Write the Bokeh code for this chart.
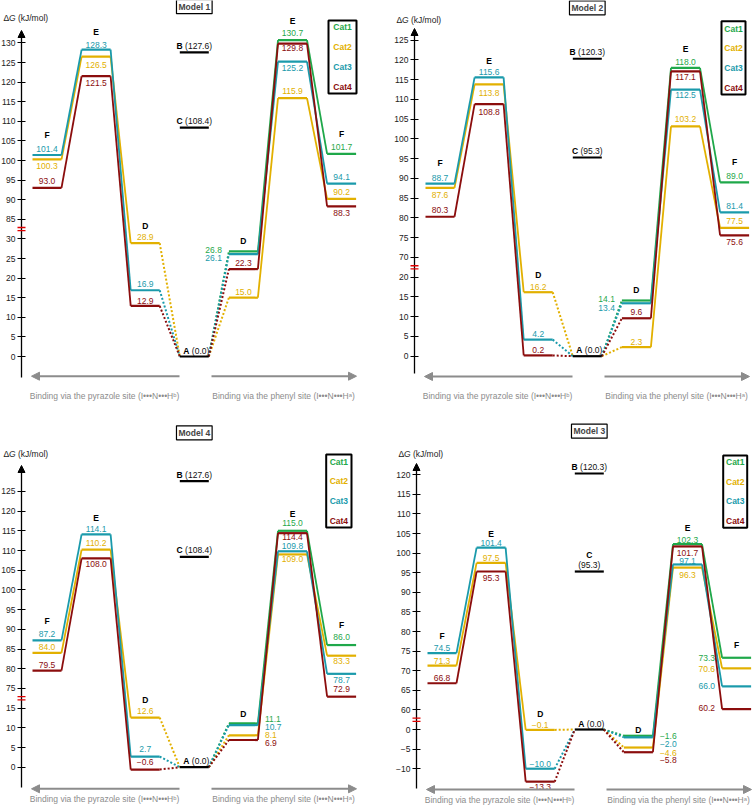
from bokeh.plotting import figure
from bokeh.models import (LinearAxis, FixedTicker, Label, Arrow, NormalHead,
                          BoxAnnotation, Range1d)
from bokeh.layouts import column, row
from bokeh.embed import file_html
from bokeh.resources import INLINE
from bokeh.core.properties import value

# ---------------- data ----------------
CATS = ["Cat1", "Cat2", "Cat3", "Cat4"]
STAGES = ["F", "E", "D", "A", "D", "E", "F"]   # pyrazole side ... A ... phenyl side

m1_cat1 = [None, None, None, 0.0, 26.8, 130.7, 101.7]
m1_cat2 = [100.3, 126.5, 28.9, 0.0, 15.0, 115.9, 90.2]
m1_cat3 = [101.4, 128.3, 16.9, 0.0, 26.1, 125.2, 94.1]
m1_cat4 = [93.0, 121.5, 12.9, 0.0, 22.3, 129.8, 88.3]
m1_B, m1_C = 127.6, 108.4
m1_ticks_low = [0, 5, 10, 15, 20, 25, 30]
m1_ticks_high = [85, 90, 95, 100, 105, 110, 115, 120, 125, 130]

m2_cat1 = [None, None, None, 0.0, 14.1, 118.0, 89.0]
m2_cat2 = [87.6, 113.8, 16.2, 0.0, 2.3, 103.2, 77.5]
m2_cat3 = [88.7, 115.6, 4.2, 0.0, 13.4, 112.5, 81.4]
m2_cat4 = [80.3, 108.8, 0.2, 0.0, 9.6, 117.1, 75.6]
m2_B, m2_C = 120.3, 95.3
m2_ticks_low = [0, 5, 10, 15, 20]
m2_ticks_high = [70, 75, 80, 85, 90, 95, 100, 105, 110, 115, 120, 125]

m4_cat1 = [None, None, None, 0.0, 11.1, 115.0, 86.0]
m4_cat2 = [84.0, 110.2, 12.6, 0.0, 8.1, 109.0, 83.3]
m4_cat3 = [87.2, 114.1, 2.7, 0.0, 10.7, 109.8, 78.7]
m4_cat4 = [79.5, 108.0, -0.6, 0.0, 6.9, 114.4, 72.9]
m4_B, m4_C = 127.6, 108.4
m4_ticks_low = [0, 5, 10, 15]
m4_ticks_high = [75, 80, 85, 90, 95, 100, 105, 110, 115, 120, 125]

m3_cat1 = [None, None, None, 0.0, -1.6, 102.3, 73.3]
m3_cat2 = [71.3, 97.5, -0.1, 0.0, -4.6, 96.3, 70.6]
m3_cat3 = [74.5, 101.4, -10.0, 0.0, -2.0, 97.1, 66.0]
m3_cat4 = [66.8, 95.3, -13.3, 0.0, -5.8, 101.7, 60.2]
m3_B, m3_C = 120.3, 95.3
m3_ticks_low = [-10, -5, 0]
m3_ticks_high = [60, 65, 70, 75, 80, 85, 90, 95, 100, 105, 110, 115, 120]

CAPTION_L = "Binding via the pyrazole site (I\u2022\u2022\u2022N\u2022\u2022\u2022H\u1d47)"
CAPTION_R = "Binding via the phenyl site (I\u2022\u2022\u2022N\u2022\u2022\u2022H\u1d43)"

# ---------------- style / layout ----------------
COLORS = ["#1fa84a", "#e2b000", "#1a9aab", "#8b0d0d"]
GRAY = "#8c8c8c"
FONT = "Liberation Sans"
S = 1.0            # reference px -> page px
XU = 49.1          # ref px between stage centres
X0 = 25.5          # ref px from axis to first stage centre
HW = 14.5 / XU     # half width of a level line (data units)
FS = 8.5           # ref font size


def fs(px):
    return f"{px * S:.2f}px"


# label placement: (mode, dy ref px; positive = down); mode c=centre, L=left, R=right
LAB_M1 = [
    [None, None, None, None, ("L", -1.5), ("c", -7.5), ("c", -7)],
    [("c", 6.5), ("c", 8), ("c", -6), None, ("c", -6), ("c", -7), ("c", -6.5)],
    [("c", -6), ("c", -5), ("c", -6), None, ("L", 4), ("c", 6), ("c", -6.5)],
    [("c", -7), ("c", 7), ("c", -5), None, ("c", -6), ("c", 4), ("c", 6.5)],
]
LAB_M2 = [
    [None, None, None, None, ("L", -1.7), ("c", -6), ("c", -6)],
    [("c", 6.7), ("c", 9), ("c", -5.7), None, ("c", -5), ("c", -7), ("c", -6.7)],
    [("c", -6), ("c", -5.7), ("c", -5.6), None, ("L", 4.4), ("c", 5), ("c", -6)],
    [("c", -6.3), ("c", 7.7), ("c", -5.3), None, ("c", -6), ("c", 5.7), ("c", 6.7)],
]
LAB_M4 = [
    [None, None, None, None, ("R", -4.5), ("c", -7.6), ("c", -7.6)],
    [("c", -6), ("c", -7), ("c", -7), None, ("R", 0), ("c", 5), ("c", 5.5)],
    [("c", -6.5), ("c", -5), ("c", -7.5), None, ("R", 2), ("c", -5), ("c", 5.7)],
    [("c", -5.5), ("c", 5.5), ("c", -7.5), None, ("R", 3), ("c", 4.3), ("c", -7.2)],
]
LAB_M3 = [
    [None, None, None, None, ("R", 0.7), ("c", -4.5), ("L", 0)],
    [("c", -5), ("c", -5), ("c", -4.5), None, ("R", 5), ("c", 7.6), ("L", 1)],
    [("c", -5.5), ("c", -5), ("c", -5), None, ("R", 7), ("c", -3.5), ("L", 0)],
    [("c", -5), ("c", 6.7), ("c", 5), None, ("R", 8), ("c", 7), ("L", -1)],
]
LET_M1 = [-20.5, -18, -17, None, -10, -18.7, -20.3]
LET_M2 = [-21, -16.7, -17.7, None, -11, -19, -20]
LET_M4 = [-19.8, -16, -18, None, -9.7, -17.3, -20.3]
LET_M3 = [-17.4, -14, -15.4, None, -6, -16.4, -13]

L_M1 = dict(oy=0, w=393, h=402, bl=21, zero=356.0, ppu=3.92, split=50, shift=50, brk=32.5,
            tip=30, ax_bot=377, title_y=6.2, dg_y=17.5, leg=(307, 335, 20, 93),
            leg_y=[26, 46, 66, 86], arr_y=375.7, cap_y=395.5, c_split=False)
L_M2 = dict(oy=0, w=360, h=402, bl=21, zero=355.7, ppu=3.95, split=45, shift=45, brk=22.5,
            tip=28, ax_bot=373, title_y=7.3, dg_y=19.5, leg=(307, 331, 20.7, 94),
            leg_y=[28, 47.3, 67.7, 87], arr_y=376, cap_y=395.5, c_split=False)
L_M4 = dict(oy=402, w=393, h=403, bl=21, zero=766.7, ppu=3.94, split=45, shift=55, brk=17.5,
            tip=465, ax_bot=786.7, title_y=432.3, dg_y=453, leg=(304.7, 330, 454, 527),
            leg_y=[461, 480.7, 500.3, 520], arr_y=788.3, cap_y=798.3, c_split=False)
L_M3 = dict(oy=402, w=360, h=403, bl=23, zero=729.0, ppu=3.92, split=30, shift=55, brk=2.5,
            tip=463, ax_bot=788, title_y=430.7, dg_y=453, leg=(306.7, 330.7, 455, 527.3),
            leg_y=[461, 481, 500.7, 520], arr_y=789, cap_y=799, c_split=True)


def fmt(v):
    return f"{v:.1f}".replace("-", "\u2212")


def num_w(s):
    return sum({"(": .333, ")": .333, ".": .278, "\u2212": .584}.get(ch, .556) for ch in s) * FS


def make_panel(name, series, B, C, t_low, t_high, L, labs, lets):
    zero, ppu, oy = L["zero"], L["ppu"], L["oy"]

    def Y(abs_y):
        return (zero - abs_y) / ppu

    def X(rel):
        return (rel - X0) / XU

    def D(v):
        return v if v <= L["split"] else v - L["shift"]

    W = round(L["w"] * S)
    H = round(L["h"] * S)
    x_start = X(-L["bl"])
    x_end = X(W / S - L["bl"])
    ytop = Y(oy)
    ybot = Y(oy + H / S)
    xa = X(0)   # axis location

    p = figure(width=W, height=H, x_range=Range1d(x_start, x_end), y_range=Range1d(ybot, ytop),
               output_backend="svg", toolbar_location=None, tools="",
               x_axis_location=None, y_axis_location=None,
               min_border_left=0, min_border_right=0, min_border_top=0, min_border_bottom=0,
               outline_line_color=None)
    p.grid.visible = False

    # ---- y axis (broken) ----
    ticks = t_low + t_high
    disp = [D(t) for t in ticks]
    ovr = {d: (str(t) if t >= 0 else "\u2212" + str(-t)) for d, t in zip(disp, ticks)}
    ax = LinearAxis(ticker=FixedTicker(ticks=disp, minor_ticks=[]),
                    major_label_overrides=ovr, fixed_location=xa,
                    bounds=(Y(L["ax_bot"]), Y(L["tip"] + 6)))
    ax.axis_line_color = "black"
    ax.axis_line_width = 1.3
    ax.major_tick_line_color = "black"
    ax.major_tick_line_width = 1.1
    ax.major_tick_in = 4
    ax.major_tick_out = 4
    ax.minor_tick_line_color = None
    ax.major_label_text_font = FONT
    ax.major_label_text_font_size = fs(FS)
    ax.major_label_text_color = "#222222"
    ax.major_label_standoff = 2
    p.add_layout(ax, "left")

    p.add_layout(Arrow(end=NormalHead(size=7, fill_color="black", line_color="black", line_width=1),
                       x_start=xa, y_start=Y(L["tip"] + 7), x_end=xa, y_end=Y(L["tip"]),
                       line_color="black", line_width=1.3))
    for dyp in (-1.6, 1.6):
        yb = L["brk"] + dyp / ppu
        p.add_layout(Arrow(start=None, end=None, x_start=xa - 4 / XU, x_end=xa + 4 / XU,
                           y_start=yb, y_end=yb, line_color="#e00000", line_width=1.3))

    # ---- levels and connectors ----
    for ci, vals in enumerate(series):
        col = COLORS[ci]
        idx = [i for i, v in enumerate(vals) if v is not None]
        sol = dict(x0=[], y0=[], x1=[], y1=[])
        dot = dict(x0=[], y0=[], x1=[], y1=[])
        for a, b in zip(idx[:-1], idx[1:]):
            tgt = dot if 3 in (a, b) else sol
            tgt["x0"].append(a + HW)
            tgt["y0"].append(D(vals[a]))
            tgt["x1"].append(b - HW)
            tgt["y1"].append(D(vals[b]))
        p.segment(x0=sol["x0"], y0=sol["y0"], x1=sol["x1"], y1=sol["y1"],
                  line_color=col, line_width=1.8)
        p.segment(x0=dot["x0"], y0=dot["y0"], x1=dot["x1"], y1=dot["y1"],
                  line_color=col, line_width=2, line_dash="2 2")
        lv = [i for i in idx if i != 3]
        p.segment(x0=[i - HW for i in lv], y0=[D(vals[i]) for i in lv],
                  x1=[i + HW for i in lv], y1=[D(vals[i]) for i in lv],
                  line_color=col, line_width=2.2)
        # value labels
        groups = {"center": ([], [], []), "right": ([], [], []), "left": ([], [], [])}
        for i in lv:
            spec = labs[ci][i]
            if spec is None:
                continue
            mode, dy = spec
            y = D(vals[i]) - dy / ppu
            if mode == "c":
                x, al = i, "center"
            elif mode == "L":
                x, al = i - HW - 7 / XU, "right"
            else:
                x, al = i + HW + 7 / XU, "left"
            groups[al][0].append(x)
            groups[al][1].append(y)
            groups[al][2].append(fmt(vals[i]))
        for al, (gx, gy, gt) in groups.items():
            if gx:
                p.text(x=gx, y=gy, text=gt, text_align=al, text_baseline="middle",
                       text_color=col, text_font=value(FONT), text_font_size=fs(FS))

    # A, B, C reference levels (black)
    refs = [0.0, B, C]
    p.segment(x0=[3 - HW] * 3, y0=[D(v) for v in refs], x1=[3 + HW] * 3,
              y1=[D(v) for v in refs], line_color="black", line_width=2.2)

    def group_label(letter, num, y, xshift=0.0):
        wl, ws, wn = 0.722 * FS, 0.28 * FS, num_w(num)
        start = -(wl + ws + wn) / 2 + xshift
        p.text(x=[3 + start / XU], y=[y], text=[letter], text_align="left",
               text_baseline="middle", text_color="black", text_font=value(FONT),
               text_font_style="bold", text_font_size=fs(FS))
        p.text(x=[3 + (start + wl + ws) / XU], y=[y], text=[num], text_align="left",
               text_baseline="middle", text_color="#111111", text_font=value(FONT),
               text_font_size=fs(FS))

    group_label("A", "(0.0)", D(0.0) + 6 / ppu, xshift=2)
    group_label("B", f"({B:.1f})", D(B) + 6.4 / ppu)
    if L["c_split"]:
        p.text(x=[3], y=[D(C) + 16.4 / ppu], text=["C"], text_align="center",
               text_baseline="middle", text_color="black", text_font=value(FONT),
               text_font_style="bold", text_font_size=fs(FS))
        p.text(x=[3], y=[D(C) + 6.4 / ppu], text=[f"({C:.1f})"], text_align="center",
               text_baseline="middle", text_color="#111111", text_font=value(FONT),
               text_font_size=fs(FS))
    else:
        group_label("C", f"({C:.1f})", D(C) + 6.4 / ppu)

    # stage letters
    lx, ly, lt = [], [], []
    for i, off in enumerate(lets):
        if off is None:
            continue
        top = max(s[i] for s in series if s[i] is not None)
        lx.append(i)
        ly.append(D(top) - off / ppu)
        lt.append(STAGES[i])
    p.text(x=lx, y=ly, text=lt, text_align="center", text_baseline="middle",
           text_color="black", text_font=value(FONT), text_font_style="bold",
           text_font_size=fs(FS))

    # title box
    p.add_layout(Label(x=3, y=Y(L["title_y"]), text=name, text_font=FONT,
                       text_font_size=fs(FS), text_font_style="bold", text_align="center",
                       text_baseline="middle", border_line_color="black",
                       border_line_width=1.2, background_fill_color="white", padding=2))

    # axis title  ΔG (kJ/mol)
    for rel, txt, sty in ((-18.0, "\u0394", "normal"), (-12.6, "G", "italic"),
                          (-3.6, "(kJ/mol)", "normal")):
        p.add_layout(Label(x=X(rel), y=Y(L["dg_y"]), text=txt, text_font=FONT,
                           text_font_size=fs(FS), text_font_style=sty, text_align="left",
                           text_baseline="middle", text_color="#222222"))

    # legend
    l, r, t, b = L["leg"]
    p.add_layout(BoxAnnotation(left=X(l), right=X(r), top=Y(t), bottom=Y(b),
                               fill_color=None, fill_alpha=0, line_color="black",
                               line_alpha=1.0, line_width=2))
    p.text(x=[X((l + r) / 2)] * 4, y=[Y(v) for v in L["leg_y"]], text=CATS,
           text_color=COLORS, text_align="center", text_baseline="middle",
           text_font=value(FONT), text_font_style="bold", text_font_size=fs(FS))

    # direction arrows and captions
    ay = Y(L["arr_y"])
    p.add_layout(Arrow(end=NormalHead(size=8, fill_color=GRAY, line_color=GRAY, line_width=1),
                       x_start=X(158), y_start=ay, x_end=X(10), y_end=ay,
                       line_color=GRAY, line_width=2))
    p.add_layout(Arrow(end=NormalHead(size=8, fill_color=GRAY, line_color=GRAY, line_width=1),
                       x_start=X(190), y_start=ay, x_end=X(335), y_end=ay,
                       line_color=GRAY, line_width=2))
    p.text(x=[X(83), X(262)], y=[Y(L["cap_y"])] * 2, text=[CAPTION_L, CAPTION_R],
           text_align="center", text_baseline="middle", text_color=GRAY,
           text_font=value(FONT), text_font_size=fs(FS))
    return p


p1 = make_panel("Model 1", [m1_cat1, m1_cat2, m1_cat3, m1_cat4], m1_B, m1_C,
                m1_ticks_low, m1_ticks_high, L_M1, LAB_M1, LET_M1)
p2 = make_panel("Model 2", [m2_cat1, m2_cat2, m2_cat3, m2_cat4], m2_B, m2_C,
                m2_ticks_low, m2_ticks_high, L_M2, LAB_M2, LET_M2)
p4 = make_panel("Model 4", [m4_cat1, m4_cat2, m4_cat3, m4_cat4], m4_B, m4_C,
                m4_ticks_low, m4_ticks_high, L_M4, LAB_M4, LET_M4)
p3 = make_panel("Model 3", [m3_cat1, m3_cat2, m3_cat3, m3_cat4], m3_B, m3_C,
                m3_ticks_low, m3_ticks_high, L_M3, LAB_M3, LET_M3)

layout = column(row(p1, p2), row(p4, p3))
open("out.html", "w").write(file_html(layout, INLINE))
